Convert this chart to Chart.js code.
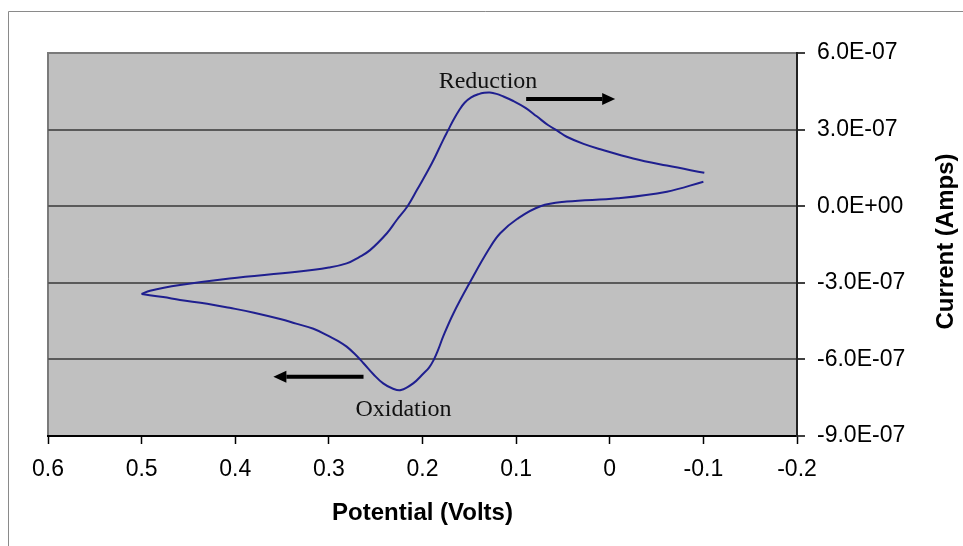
<!DOCTYPE html>
<html>
<head>
<meta charset="utf-8">
<script src="https://cdn.jsdelivr.net/npm/chart.js@4.4.1/dist/chart.umd.min.js"></script>
<style>
  html, body { margin: 0; padding: 0; background: #fff; }
  canvas { display: block; }
</style>
</head>
<body>
<canvas id="cv" width="963" height="546"></canvas>
<script>
// forward scan, upper branch (0.5 V -> -0.1 V)
const forwardPotential = [0.5, 0.491, 0.459, 0.406, 0.334, 0.30, 0.281, 0.268, 0.256, 0.238, 0.2275, 0.216, 0.206, 0.19, 0.178, 0.172, 0.167, 0.161, 0.155, 0.148, 0.140, 0.134, 0.128, 0.121, 0.115, 0.103, 0.09, 0.078, 0.066, 0.055, 0.046, 0.028, 0.01, -0.025, -0.061, -0.101];
const forwardCurrent = [-3.44e-7, -3.31e-7, -3.09e-7, -2.83e-7, -2.57e-7, -2.40e-7, -2.24e-7, -2.0e-7, -1.72e-7, -1.06e-7, -0.54e-7, 0, 0.63e-7, 1.68e-7, 2.59e-7, 3.02e-7, 3.38e-7, 3.75e-7, 4.05e-7, 4.26e-7, 4.39e-7, 4.44e-7, 4.45e-7, 4.40e-7, 4.32e-7, 4.12e-7, 3.85e-7, 3.52e-7, 3.18e-7, 2.93e-7, 2.72e-7, 2.44e-7, 2.23e-7, 1.87e-7, 1.59e-7, 1.31e-7];

// reverse scan, lower branch (-0.1 V -> 0.5 V)
const reversePotential = [-0.1, -0.061, -0.008, 0.046, 0.074, 0.099, 0.117, 0.129, 0.149, 0.167, 0.178, 0.183, 0.188, 0.193, 0.199, 0.210, 0.223, 0.232, 0.242, 0.252, 0.263, 0.272, 0.281, 0.29, 0.299, 0.3165, 0.335, 0.352, 0.38, 0.406, 0.43, 0.459, 0.477, 0.5];
const reverseCurrent = [0.96e-7, 0.57e-7, 0.31e-7, 0.18e-7, 0, -0.5e-7, -1.06e-7, -1.68e-7, -2.96e-7, -4.20e-7, -5.11e-7, -5.6e-7, -6.02e-7, -6.32e-7, -6.55e-7, -6.94e-7, -7.2e-7, -7.14e-7, -6.94e-7, -6.6e-7, -6.15e-7, -5.8e-7, -5.50e-7, -5.28e-7, -5.11e-7, -4.80e-7, -4.6e-7, -4.42e-7, -4.17e-7, -3.98e-7, -3.82e-7, -3.67e-7, -3.56e-7, -3.44e-7];

const xTicks = [0.6, 0.5, 0.4, 0.3, 0.2, 0.1, 0, -0.1, -0.2];
const yTicks = [-9e-7, -6e-7, -3e-7, 0, 3e-7, 6e-7];

// text labels and arrows, in data units
const noteText = ['Reduction', 'Oxidation'];
const noteX = [0.130, 0.2204];
const noteY = [4.62e-7, -8.22e-7];
const arrowFrom = [0.0893, 0.263];
const arrowTo = [-0.0058, 0.3593];
const arrowY = [4.2e-7, -6.68e-7];

function toPoints(xs, ys) {
  return xs.map((x, i) => ({ x: x, y: ys[i] }));
}

function sci(v) {
  if (Math.abs(v) < 1e-12) v = 0;
  const parts = v.toExponential(1).split('e');
  const n = parseInt(parts[1], 10);
  return parts[0] + 'E' + (n < 0 ? '-' : '+') + String(Math.abs(n)).padStart(2, '0');
}

function arrow(ctx, x1, y, x2) {
  const dir = Math.sign(x2 - x1);
  const headLen = 13, headHalf = 6;
  ctx.strokeStyle = '#000';
  ctx.fillStyle = '#000';
  ctx.lineWidth = 4;
  ctx.beginPath();
  ctx.moveTo(x1, y);
  ctx.lineTo(x2 - dir * headLen, y);
  ctx.stroke();
  ctx.beginPath();
  ctx.moveTo(x2, y);
  ctx.lineTo(x2 - dir * headLen, y - headHalf);
  ctx.lineTo(x2 - dir * headLen, y + headHalf);
  ctx.closePath();
  ctx.fill();
}

const decor = {
  id: 'decor',
  beforeDraw(chart) {
    const { ctx, chartArea: a } = chart;
    ctx.save();
    // outer frame (only top and left edges fall inside the picture)
    ctx.strokeStyle = '#8a8a8a';
    ctx.lineWidth = 1;
    ctx.beginPath();
    ctx.moveTo(963, 11.5);
    ctx.lineTo(8.5, 11.5);
    ctx.lineTo(8.5, 546);
    ctx.stroke();
    // plot area
    ctx.fillStyle = '#c0c0c0';
    ctx.fillRect(a.left, a.top, a.right - a.left, a.bottom - a.top);
    ctx.strokeStyle = '#7a7a7a';
    ctx.lineWidth = 2;
    ctx.beginPath();
    ctx.moveTo(a.right, a.top);
    ctx.lineTo(a.left, a.top);
    ctx.lineTo(a.left, a.bottom);
    ctx.stroke();
    ctx.restore();
  },
  afterDraw(chart) {
    const { ctx, chartArea: a } = chart;
    const xs = chart.scales.x, ys = chart.scales.y;
    ctx.save();
    ctx.font = '24px "Liberation Serif", "Times New Roman", serif';
    ctx.fillStyle = '#111';
    ctx.textAlign = 'center';
    ctx.textBaseline = 'alphabetic';
    noteText.forEach((t, i) => {
      ctx.fillText(t, xs.getPixelForValue(noteX[i]), ys.getPixelForValue(noteY[i]));
    });
    arrowFrom.forEach((v, i) => {
      arrow(ctx, xs.getPixelForValue(v), ys.getPixelForValue(arrowY[i]), xs.getPixelForValue(arrowTo[i]));
    });
    // y axis title, reading bottom to top
    ctx.translate(chart.width - 17, (a.top + a.bottom) / 2 - 3);
    ctx.rotate(-Math.PI / 2);
    ctx.font = 'bold 24px "Liberation Sans", Arial, sans-serif';
    ctx.fillStyle = '#000';
    ctx.textBaseline = 'middle';
    ctx.fillText('Current (Amps)', 0, 0);
    ctx.restore();
  }
};

const tickFont = { family: '"Liberation Sans", Arial, sans-serif', size: 23 };

new Chart(document.getElementById('cv'), {
  type: 'scatter',
  data: {
    datasets: [
      { data: toPoints(forwardPotential, forwardCurrent) },
      { data: toPoints(reversePotential, reverseCurrent) }
    ]
  },
  options: {
    responsive: false,
    devicePixelRatio: 1,
    animation: false,
    showLine: true,
    layout: { padding: { left: 48, top: 53, right: 0, bottom: 0 } },
    elements: {
      point: { radius: 0, hoverRadius: 0 },
      line: { borderColor: '#1f1f8f', borderWidth: 2, tension: 0.4, fill: false }
    },
    plugins: {
      legend: { display: false },
      tooltip: { enabled: false }
    },
    scales: {
      x: {
        type: 'linear',
        min: -0.2,
        max: 0.6,
        reverse: true,
        afterBuildTicks: s => { s.ticks = xTicks.map(v => ({ value: v })); },
        afterFit: s => { s.height = 110; },
        grid: { drawOnChartArea: false, drawTicks: true, tickLength: 8, tickColor: '#000', tickWidth: 1.5 },
        border: { display: true, color: '#000', width: 2 },
        ticks: {
          padding: 12,
          maxRotation: 0,
          color: '#000',
          font: tickFont,
          callback: v => String(Math.round(v * 10) / 10)
        },
        title: {
          display: true,
          text: 'Potential (Volts)',
          color: '#000',
          font: { family: '"Liberation Sans", Arial, sans-serif', size: 24, weight: 'bold' },
          padding: { top: 0, bottom: 18 }
        }
      },
      y: {
        type: 'linear',
        position: 'right',
        min: -9e-7,
        max: 6e-7,
        afterBuildTicks: s => { s.ticks = yTicks.map(v => ({ value: v })); },
        afterFit: s => { s.width = 166; },
        grid: {
          drawOnChartArea: true,
          drawTicks: true,
          tickLength: 8,
          tickColor: '#000',
          tickWidth: 1.5,
          lineWidth: 2,
          color: c => {
            const v = c.tick ? c.tick.value : 0;
            if (v <= -8.9e-7) return 'rgba(0,0,0,0)';
            if (v >= 5.9e-7) return '#7a7a7a';
            return '#5a5a5a';
          }
        },
        border: { display: true, color: '#222', width: 2 },
        ticks: {
          padding: 12,
          color: '#000',
          font: tickFont,
          callback: v => sci(v)
        }
      }
    }
  },
  plugins: [decor]
});
</script>
</body>
</html>
